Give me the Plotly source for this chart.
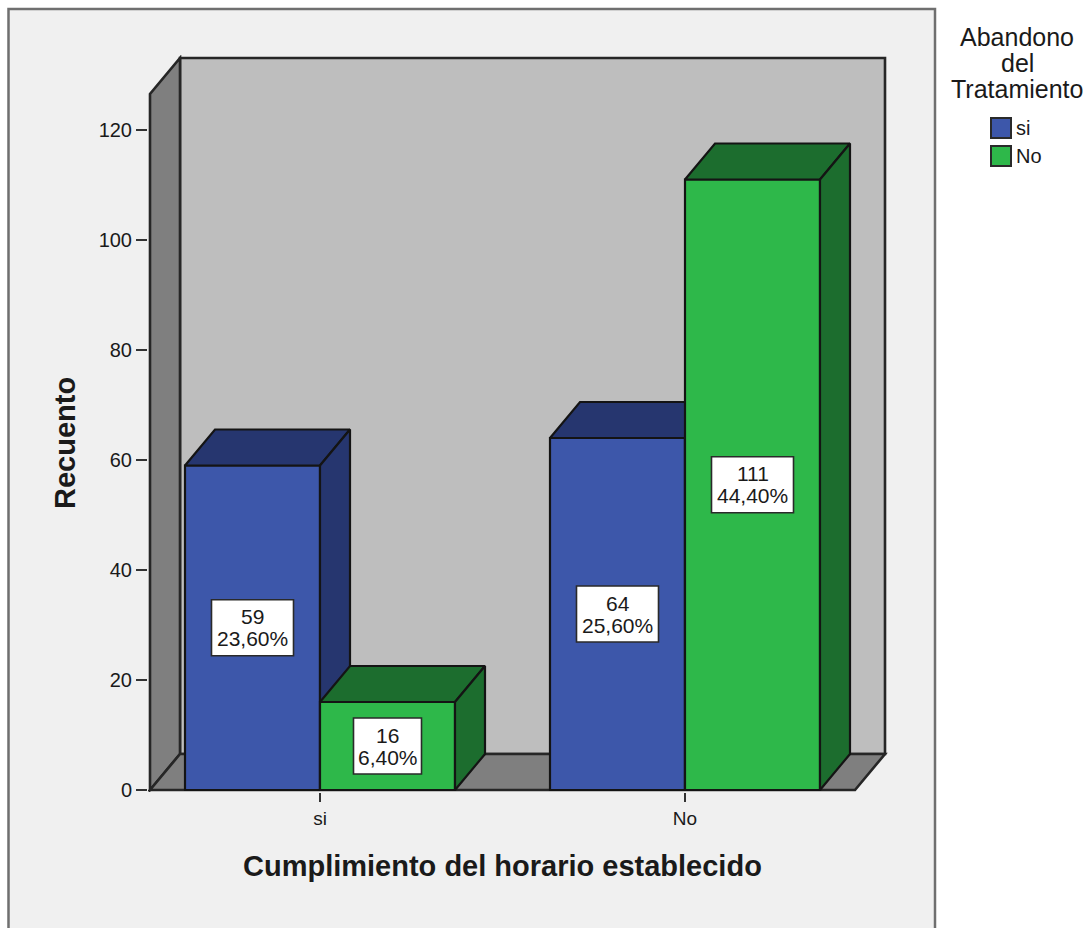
import plotly.graph_objects as go

# ---- data ----
categories = ["si", "No"]
series_names = ["si", "No"]
counts_si = [59, 64]
counts_no = [16, 111]
pct_si = ["23,60%", "25,60%"]
pct_no = ["6,40%", "44,40%"]
y_ticks = [0, 20, 40, 60, 80, 100, 120]
x_title = "Cumplimiento del horario establecido"
y_title = "Recuento"
legend_title = ["Abandono", "del", "Tratamiento"]

# ---- layout / style ----
W, H = 1088, 928
L, R, T, B = 148, 889, 55, 792   # plot area, a little larger than the walls so no edge is clipped
PX_X = 365.0   # pixels per category step
PX_Y = 5.5     # pixels per count
X0_PX, Y0_PX = 320, 790
DX = 30 / PX_X
DY = 36 / PX_Y
BAR = 135 / PX_X
XMIN = (L - X0_PX) / PX_X
XMAX = (R - X0_PX) / PX_X
YMIN = (Y0_PX - B) / PX_Y
YMAX = (Y0_PX - T) / PX_Y
WALL_L = (150 - X0_PX) / PX_X
WALL_R = (885 - X0_PX) / PX_X
WALL_T = (Y0_PX - 58) / PX_Y
FRONT_R = WALL_R - DX
FRONT_T = WALL_T - DY

BLUE, BLUE_D = "#3d57aa", "#26366f"
GREEN, GREEN_D = "#2eb84a", "#1c6d2e"
WALL, SIDE = "#bebebe", "#7f7f7f"
PANEL, EDGE = "#f0f0f0", "#6f6f6f"
INK = "#141414"
FONT = "Liberation Sans"


def px(x):
    return (x - L) / (R - L)


def py(y):
    return (B - y) / (B - T)


def faces(left, value, color_top, color_side, xaxis, yaxis):
    right = left + BAR
    out = []
    out.append(go.Scatter(
        x=[left, left + DX, right + DX, right, left],
        y=[value, value + DY, value + DY, value, value],
        fill="toself", fillcolor=color_top, mode="lines",
        line=dict(color=INK, width=2.2), xaxis=xaxis, yaxis=yaxis,
        hoverinfo="skip", showlegend=False))
    out.append(go.Scatter(
        x=[right, right + DX, right + DX, right, right],
        y=[value, value + DY, DY, 0, value],
        fill="toself", fillcolor=color_side, mode="lines",
        line=dict(color=INK, width=2.2), xaxis=xaxis, yaxis=yaxis,
        hoverinfo="skip", showlegend=False))
    return out


fig = go.Figure()

# blue bars on the base axes, green bars on an overlay so they hide the blue depth faces
fig.add_trace(go.Bar(x=[0, 1], y=counts_si, width=BAR, offset=-BAR, name=series_names[0],
                     marker=dict(color=BLUE, line=dict(color=INK, width=2.2)),
                     showlegend=False, xaxis="x", yaxis="y"))
for i, v in enumerate(counts_si):
    for t in faces(i - BAR, v, BLUE_D, BLUE_D, "x", "y"):
        fig.add_trace(t)

fig.add_trace(go.Bar(x=[0, 1], y=counts_no, width=BAR, offset=0, name=series_names[1],
                     marker=dict(color=GREEN, line=dict(color=INK, width=2.2)),
                     showlegend=False, xaxis="x2", yaxis="y2"))
for i, v in enumerate(counts_no):
    for t in faces(i, v, GREEN_D, GREEN_D, "x2", "y2"):
        fig.add_trace(t)

wall_line = dict(color="#262626", width=2.6)
shapes = [
    # outer panel, running off the bottom of the page
    dict(type="rect", xref="paper", yref="paper", x0=px(8.5), x1=px(935), y0=py(960), y1=py(9),
         fillcolor=PANEL, line=dict(color=EDGE, width=2.5), layer="below"),
    # back wall
    dict(type="rect", xref="x", yref="y", x0=WALL_L + DX, x1=WALL_R, y0=DY, y1=WALL_T,
         fillcolor=WALL, line=wall_line, layer="below"),
    # left wall
    dict(type="path", xref="x", yref="y",
         path=f"M{WALL_L},0 L{WALL_L + DX},{DY} L{WALL_L + DX},{WALL_T} L{WALL_L},{FRONT_T} Z",
         fillcolor=SIDE, line=wall_line, layer="below"),
    # floor
    dict(type="path", xref="x", yref="y",
         path=f"M{WALL_L},0 L{WALL_L + DX},{DY} L{WALL_R},{DY} L{FRONT_R},0 Z",
         fillcolor=SIDE, line=wall_line, layer="below"),
]

annotations = []


def text(x, y, s, size, xref="paper", yref="paper", bold=False, angle=0, yshift=0):
    annotations.append(dict(x=x, y=y, xref=xref, yref=yref, text=s, showarrow=False,
                            textangle=angle, yshift=yshift, xanchor="center", yanchor="middle",
                            font=dict(family=FONT, size=size, color="#1a1a1a",
                                      weight="bold" if bold else "normal")))


# value boxes: the box hugs the wider of its two lines
for i, (cs, ps, cn, pn) in enumerate(zip(counts_si, pct_si, counts_no, pct_no)):
    for cx, v, p in ((i - BAR / 2, cs, ps), (i + BAR / 2, cn, pn)):
        half = 41 if len(p) > 5 else 34
        shapes.append(dict(type="rect", xref="x", yref="y", xsizemode="pixel", ysizemode="pixel",
                           xanchor=cx, yanchor=v / 2, x0=-half, x1=half, y0=-28, y1=28,
                           fillcolor="white", line=dict(color="#2a2a2a", width=1.6), layer="above"))
        text(cx, v / 2, str(v), 21, "x", "y", yshift=11)
        text(cx, v / 2, p, 21, "x", "y", yshift=-11)

# axis titles
text(px(502), py(866), x_title, 29, bold=True)
text(px(65), py(443), y_title, 29, bold=True, angle=-90)

# legend
for ly, line in zip((37, 63, 89), legend_title):
    text(px(1017), py(ly), line, 25)
for ly, name, color in zip((128, 156), series_names, (BLUE, GREEN)):
    shapes.append(dict(type="rect", xref="paper", yref="paper", x0=px(991), x1=px(1011),
                       y0=py(ly + 10), y1=py(ly - 10), fillcolor=color,
                       line=dict(color="#2a2a2a", width=2), layer="above"))
    annotations.append(dict(x=px(1014), y=py(ly), xref="paper", yref="paper", text=name,
                            showarrow=False, xanchor="left", yanchor="middle",
                            font=dict(family=FONT, size=20, color="#1a1a1a")))

fig.update_layout(
    width=W, height=H, autosize=False,
    margin=dict(l=L, r=W - R, t=T, b=H - B, pad=0),
    paper_bgcolor="white", plot_bgcolor="rgba(0,0,0,0)",
    barmode="overlay", showlegend=False, hovermode=False,
    shapes=shapes, annotations=annotations,
    font=dict(family=FONT, color="#1a1a1a"),
    xaxis=dict(range=[XMIN, XMAX], tickmode="array", tickvals=[0, 1], ticktext=categories,
               ticks="outside", ticklen=9, tickwidth=2, tickcolor="#333333",
               showgrid=False, zeroline=False, showline=False, tickfont=dict(size=19, family=FONT)),
    yaxis=dict(range=[YMIN, YMAX], tickmode="array", tickvals=y_ticks,
               ticks="outside", ticklen=11, tickwidth=2, tickcolor="#333333",
               showgrid=False, zeroline=False, showline=False, tickfont=dict(size=20, family=FONT)),
    xaxis2=dict(range=[XMIN, XMAX], overlaying="x", visible=False),
    yaxis2=dict(range=[YMIN, YMAX], overlaying="y", visible=False),
)

fig.write_html("out.html", config=dict(displayModeBar=False),
               post_script="document.body.style.margin='0';document.body.style.overflow='hidden';")
